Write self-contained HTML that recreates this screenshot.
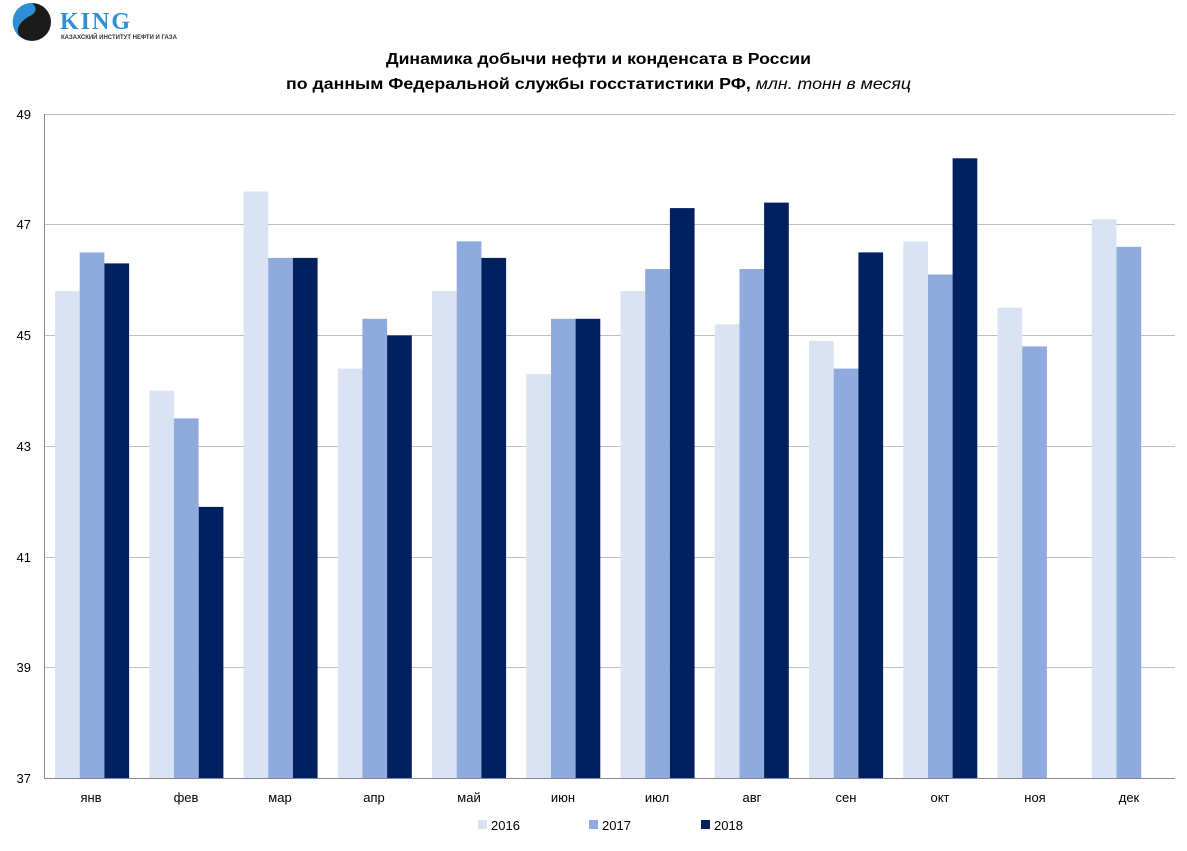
<!DOCTYPE html>
<html><head><meta charset="utf-8"><style>
body{margin:0;background:#fff;width:1187px;height:846px;overflow:hidden;font-family:"Liberation Sans","DejaVu Sans",sans-serif}
</style></head><body>
<svg id="s" width="1187" height="846" xmlns="http://www.w3.org/2000/svg" font-family="Liberation Sans, DejaVu Sans, sans-serif">
<rect width="1187" height="846" fill="#fff"/>
<!-- logo -->
<circle cx="32" cy="22" r="19" fill="#1b1b1b"/>
<path d="M32 3 A19 19 0 0 0 20 37 C14 28 22 20 30 16 C36 13 38 8 32 3Z" fill="#2e8fd6"/>
<text x="60" y="29" font-size="24" font-weight="bold" fill="#2e8fd6" font-family="Liberation Serif, serif" letter-spacing="2">KING</text>
<text x="61" y="39" font-size="6" font-weight="bold" fill="#333">КАЗАХСКИЙ ИНСТИТУТ НЕФТИ И ГАЗА</text>
<!-- title -->
<text x="386" y="64" font-size="16" font-weight="bold" fill="#000" textLength="425" lengthAdjust="spacingAndGlyphs">Динамика добычи нефти и конденсата в России</text>
<text x="286" y="89" font-size="16" fill="#000" textLength="625" lengthAdjust="spacingAndGlyphs"><tspan font-weight="bold">по данным Федеральной службы госстатистики РФ,</tspan><tspan font-style="italic"> млн. тонн в месяц</tspan></text>
<g id="grid" stroke="#bfbfbf" stroke-width="1">
<line x1="44" x2="1175" y1="114.5" y2="114.5"/>
<line x1="44" x2="1175" y1="224.5" y2="224.5"/>
<line x1="44" x2="1175" y1="335.5" y2="335.5"/>
<line x1="44" x2="1175" y1="446.5" y2="446.5"/>
<line x1="44" x2="1175" y1="557.5" y2="557.5"/>
<line x1="44" x2="1175" y1="667.5" y2="667.5"/>
</g>
<g id="bars"></g>
<line x1="44" x2="1175" y1="778.5" y2="778.5" stroke="#888"/>
<line x1="44.5" x2="44.5" y1="114" y2="778" stroke="#888"/>
<g font-size="13" fill="#000" text-anchor="end">
<text x="31" y="119">49</text><text x="31" y="229">47</text><text x="31" y="340">45</text>
<text x="31" y="451">43</text><text x="31" y="562">41</text><text x="31" y="672">39</text><text x="31" y="783">37</text>
</g>
<g font-size="13" fill="#000" text-anchor="middle">
<text x="91" y="802">янв</text><text x="186" y="802">фев</text><text x="280" y="802">мар</text>
<text x="374" y="802">апр</text><text x="469" y="802">май</text><text x="563" y="802">июн</text>
<text x="657" y="802">июл</text><text x="752" y="802">авг</text><text x="846" y="802">сен</text>
<text x="940" y="802">окт</text><text x="1035" y="802">ноя</text><text x="1129" y="802">дек</text>
</g>
<rect x="478" y="820" width="9" height="9" fill="#dae3f3"/><text x="491" y="830" font-size="13">2016</text>
<rect x="589" y="820" width="9" height="9" fill="#8faadc"/><text x="602" y="830" font-size="13">2017</text>
<rect x="701" y="820" width="9" height="9" fill="#002060"/><text x="714" y="830" font-size="13">2018</text>
</svg>
<script>
var d=[[45.8,44.0,47.6,44.4,45.8,44.3,45.8,45.2,44.9,46.7,45.5,47.1],
[46.5,43.5,46.4,45.3,46.7,45.3,46.2,46.2,44.4,46.1,44.8,46.6],
[46.3,41.9,46.4,45.0,46.4,45.3,47.3,47.4,46.5,48.2]];
var c=["#dae3f3","#8faadc","#002060"],g=document.getElementById("bars"),h="";
var cw=(1175-44)/12;
for(var s=0;s<3;s++)for(var i=0;i<d[s].length;i++){
var v=d[s][i],y=778-(v-37)*55.33,x=44+i*cw+11+s*24.7;
h+='<rect x="'+x.toFixed(1)+'" y="'+y.toFixed(1)+'" width="24.7" height="'+(778-y).toFixed(1)+'" fill="'+c[s]+'"/>';}
g.innerHTML=h;
</script>
</body></html>
